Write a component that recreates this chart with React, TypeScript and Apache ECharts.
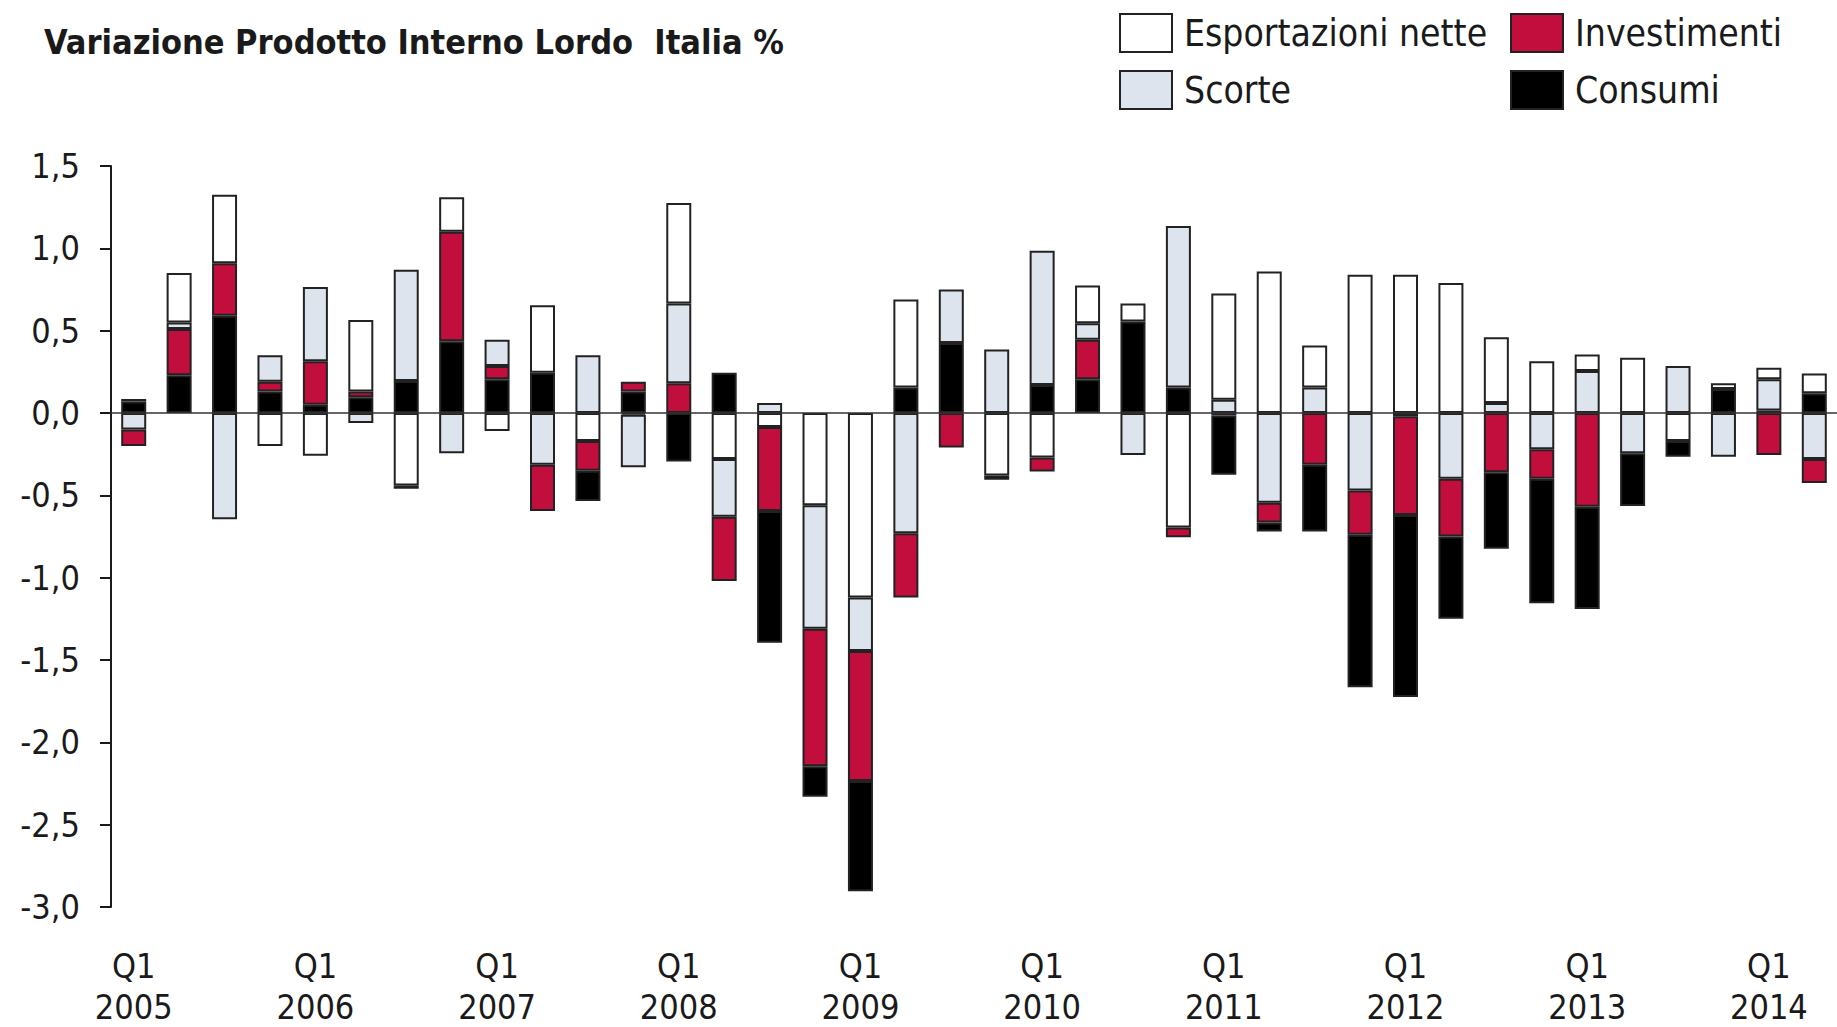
import React, { useEffect, useRef } from "react";
import * as echarts from "echarts";

const quarters = [
  "Q1 2005", "Q2 2005", "Q3 2005", "Q4 2005",
  "Q1 2006", "Q2 2006", "Q3 2006", "Q4 2006",
  "Q1 2007", "Q2 2007", "Q3 2007", "Q4 2007",
  "Q1 2008", "Q2 2008", "Q3 2008", "Q4 2008",
  "Q1 2009", "Q2 2009", "Q3 2009", "Q4 2009",
  "Q1 2010", "Q2 2010", "Q3 2010", "Q4 2010",
  "Q1 2011", "Q2 2011", "Q3 2011", "Q4 2011",
  "Q1 2012", "Q2 2012", "Q3 2012", "Q4 2012",
  "Q1 2013", "Q2 2013", "Q3 2013", "Q4 2013",
  "Q1 2014", "Q2 2014",
];

const consumi = [
  0.07, 0.23, 0.59, 0.13,
  0.05, 0.095, 0.195, 0.435,
  0.205, 0.245, -0.185, 0.13,
  -0.295, 0.245, -0.8, -0.185,
  -0.67, 0.155, 0.425, -0.025,
  0.17, 0.205, 0.555, 0.155,
  -0.36, -0.055, -0.405, -0.925,
  -1.105, -0.5, -0.465, -0.755,
  -0.62, -0.32, -0.095, 0.145,
  0.015, 0.12,
];

const investimenti = [
  -0.1, 0.28, 0.32, 0.06,
  0.265, 0.035, -0.02, 0.665,
  0.08, -0.28, -0.18, 0.06,
  0.18, -0.39, -0.51, -0.835,
  -0.79, -0.39, -0.21, 0,
  -0.085, 0.24, 0, -0.06,
  -0.015, -0.12, -0.315, -0.27,
  -0.6, -0.35, -0.36, -0.18,
  -0.57, 0, 0, 0,
  -0.255, -0.145,
];

const scorte = [
  -0.1, 0.04, -0.645, 0.16,
  0.45, -0.06, 0.675, -0.245,
  0.16, -0.315, 0.35, -0.32,
  0.485, -0.35, 0.06, -0.75,
  -0.325, -0.73, 0.325, 0.385,
  0.815, 0.1, -0.255, 0.98,
  0.08, -0.545, 0.155, -0.47,
  -0.02, -0.4, 0.06, -0.22,
  0.255, -0.245, 0.285, -0.265,
  0.19, -0.28,
];

const esportazioniNette = [
  0.015, 0.3, 0.415, -0.2,
  -0.26, 0.435, -0.44, 0.21,
  -0.11, 0.41, -0.17, -0.01,
  0.61, -0.28, -0.085, -0.56,
  -1.12, 0.535, 0, -0.38,
  -0.27, 0.23, 0.11, -0.695,
  0.645, 0.86, 0.255, 0.84,
  0.84, 0.79, 0.4, 0.315,
  0.1, 0.335, -0.17, 0.035,
  0.07, 0.12,
];

const FONT = "'DejaVu Sans Condensed', 'DejaVu Sans', sans-serif";
const INK = "#1a1a1a";
const BORDER = "#222222";

const seriesColors: Record<string, string> = {
  Consumi: "#000000",
  Investimenti: "#C20E3D",
  Scorte: "#DEE4EE",
  "Esportazioni nette": "#FFFFFF",
};

export default function App() {
  const ref = useRef<HTMLDivElement>(null);

  useEffect(() => {
    if (!ref.current) return;
    const chart = echarts.init(ref.current, undefined, { renderer: "svg" });

    const values: Record<string, number[]> = {
      Consumi: consumi,
      Investimenti: investimenti,
      Scorte: scorte,
      "Esportazioni nette": esportazioniNette,
    };
    const posOrder = ["Consumi", "Investimenti", "Scorte", "Esportazioni nette"];
    const negOrder = ["Esportazioni nette", "Scorte", "Investimenti", "Consumi"];

    const makeSeries = (name: string, stack: string, positive: boolean) => ({
      type: "bar",
      name,
      stack,
      barWidth: 25,
      barGap: "-100%",
      data: values[name].map((v) =>
        positive ? (v > 0 ? v : "-") : v < 0 ? v : "-"
      ),
      itemStyle: {
        color: seriesColors[name],
        borderColor: BORDER,
        borderWidth: 2,
      },
      emphasis: { disabled: true },
    });

    const series: any[] = [
      ...posOrder.map((n) => makeSeries(n, "pos", true)),
      ...negOrder.map((n) => makeSeries(n, "neg", false)),
    ];
    series[series.length - 1].markLine = {
      silent: true,
      symbol: "none",
      label: { show: false },
      lineStyle: { color: "#333333", width: 1.5, type: "solid" },
      data: [{ yAxis: 0 }],
    };

    const legendCommon = {
      orient: "vertical",
      top: 13,
      padding: 0,
      itemWidth: 52,
      itemHeight: 38,
      itemGap: 17,
      icon: "rect",
      selectedMode: false,
      itemStyle: { borderColor: BORDER, borderWidth: 2 },
      textStyle: {
        fontFamily: FONT,
        fontSize: 37,
        color: INK,
        padding: [4, 0, 0, 7],
      },
    };

    chart.setOption({
      animation: false,
      backgroundColor: "#ffffff",
      textStyle: { fontFamily: FONT },
      title: {
        text: "Variazione Prodotto Interno Lordo  Italia %",
        left: 44,
        top: 25,
        padding: 0,
        textStyle: {
          fontFamily: FONT,
          fontSize: 34,
          fontWeight: "bold",
          color: INK,
        },
      },
      legend: [
        { ...legendCommon, left: 1119, data: ["Esportazioni nette", "Scorte"] },
        { ...legendCommon, left: 1510, data: ["Investimenti", "Consumi"] },
      ],
      grid: { left: 111, right: 0, top: 166, bottom: 119, containLabel: false },
      xAxis: {
        type: "category",
        data: quarters,
        axisLine: { show: false, onZero: false },
        axisTick: { show: false },
        axisLabel: {
          interval: (idx: number) => idx % 4 === 0,
          formatter: (v: string) => {
            const [q, y] = v.split(" ");
            return q + "\n" + y;
          },
          fontFamily: FONT,
          fontSize: 34,
          lineHeight: 41,
          color: INK,
          margin: 38,
        },
      },
      yAxis: {
        type: "value",
        min: -3,
        max: 1.5,
        interval: 0.5,
        splitLine: { show: false },
        axisLine: { show: true, lineStyle: { color: INK, width: 2 } },
        axisTick: {
          show: true,
          length: 11,
          inside: false,
          lineStyle: { color: INK, width: 2 },
        },
        axisLabel: {
          formatter: (v: number) => v.toFixed(1).replace(".", ","),
          fontFamily: FONT,
          fontSize: 34,
          color: INK,
          margin: 31,
        },
      },
      series,
    });

    return () => chart.dispose();
  }, []);

  return (
    <div
      ref={ref}
      style={{ position: "fixed", left: 0, top: 0, width: 1837, height: 1027, background: "#fff" }}
    />
  );
}
